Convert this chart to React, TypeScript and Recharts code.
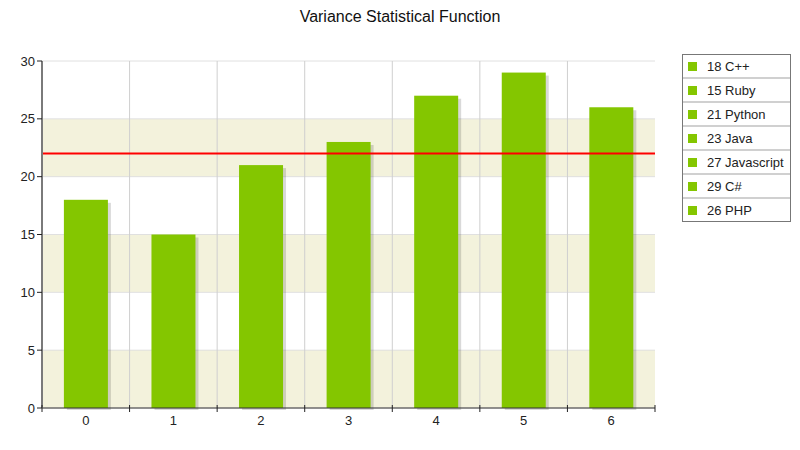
import {
  ComposedChart,
  Bar,
  XAxis,
  YAxis,
  CartesianGrid,
  ReferenceLine,
} from 'recharts';

const languages = ['C++', 'Ruby', 'Python', 'Java', 'Javascript', 'C#', 'PHP'];
const values = [18, 15, 21, 23, 27, 29, 26];
const yTicks = [0, 5, 10, 15, 20, 25, 30];
const varianceLine = 22;

const data = values.map((v, i) => ({ idx: String(i), value: v, name: languages[i] }));

const GREEN = '#84c600';
const FONT = '"Liberation Sans", Arial, sans-serif';

function ShadowBar(props: any) {
  const { x, y, width, height, fill } = props;
  if (!height || height <= 0) return null;
  return (
    <g>
      <rect x={x + 3} y={y + 3} width={width} height={height - 1} fill="#000" fillOpacity={0.15} />
      <rect x={x} y={y} width={width} height={height} fill={fill} />
    </g>
  );
}

// label centred in the band, tick marks on the band edges
function XTick(props: any) {
  const { x, y, payload, index } = props;
  const half = payload?.offset || 43.8;
  return (
    <g>
      {index === 0 && <line x1={x - half} x2={x - half} y1={y - 3} y2={y + 4} stroke="#222" />}
      <line x1={x + half} x2={x + half} y1={y - 3} y2={y + 4} stroke="#222" />
      <text x={x} y={y + 17} textAnchor="middle" fontSize={13} fill="#222" fontFamily={FONT}>
        {payload.value}
      </text>
    </g>
  );
}

export default function App() {
  return (
    <div style={{ position: 'absolute', left: 0, top: 0, width: 800, height: 450, background: '#fff', fontFamily: FONT }}>
      <div style={{ position: 'absolute', top: 8, left: 0, width: 800, textAlign: 'center', fontSize: 16, color: '#111' }}>
        Variance Statistical Function
      </div>
      <ComposedChart
        width={800}
        height={450}
        data={data}
        margin={{ top: 61, right: 145, bottom: 0, left: 0 }}
        barCategoryGap="25%"
      >
        <CartesianGrid
          vertical={false}
          stroke="#e0e0e0"
          horizontalFill={['#ffffff', '#f3f2dc']}
          fillOpacity={1}
        />
        <CartesianGrid
          horizontal={false}
          stroke="#cfcfcf"
          verticalCoordinatesGenerator={({ offset }: any) =>
            languages.slice(1).map((_, i) => offset.left + (offset.width * (i + 1)) / languages.length)
          }
        />
        <XAxis
          dataKey="idx"
          height={42}
          tickLine={false}
          tickSize={0}
          tickMargin={0}
          axisLine={{ stroke: '#333', strokeWidth: 1.2 }}
          tick={<XTick />}
          interval={0}
        />
        <XAxis xAxisId="top" dataKey="idx" orientation="top" height={0} tick={false} tickLine={false} axisLine={{ stroke: '#888' }} />
        <YAxis
          width={42}
          domain={[0, 30]}
          ticks={yTicks}
          interval={0}
          tickSize={5}
          tickMargin={2}
          tick={{ fontSize: 13, fill: '#222', fontFamily: FONT }}
          tickLine={{ stroke: '#222' }}
          axisLine={{ stroke: '#7a7a7a', strokeWidth: 2 }}
        />
        <YAxis yAxisId="right" orientation="right" width={0} domain={[0, 30]} tick={false} tickLine={false} axisLine={{ stroke: '#888' }} />
        <Bar dataKey="value" fill={GREEN} shape={<ShadowBar />} isAnimationActive={false} />
        <ReferenceLine y={varianceLine} stroke="#ff0000" strokeWidth={2} />
      </ComposedChart>
      <div
        style={{
          position: 'absolute',
          left: 682,
          top: 54,
          width: 107,
          border: '1px solid #777',
          background: '#fff',
          fontSize: 13,
          color: '#222',
        }}
      >
        {languages.map((lang, i) => (
          <div
            key={lang}
            style={{
              height: 22,
              display: 'flex',
              alignItems: 'center',
              borderTop: i === 0 ? 'none' : '2px solid #d0d0d0',
            }}
          >
            <span style={{ width: 9, height: 9, background: GREEN, marginLeft: 5, marginRight: 10 }} />
            <span>{values[i]} {lang}</span>
          </div>
        ))}
      </div>
    </div>
  );
}
